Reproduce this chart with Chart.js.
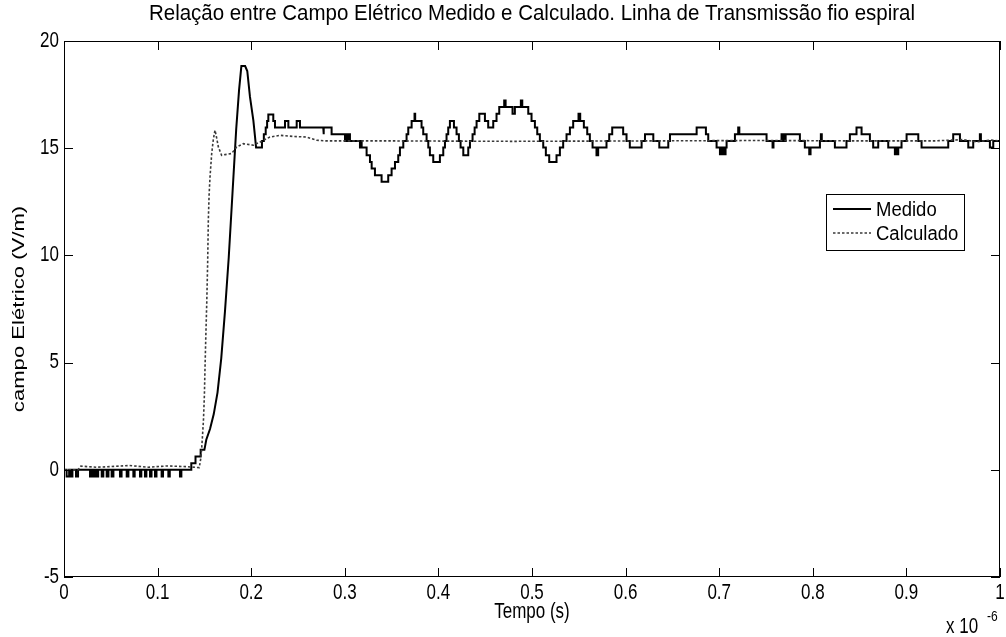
<!DOCTYPE html>
<html>
<head>
<meta charset="utf-8">
<script src="https://cdn.jsdelivr.net/npm/chart.js@4.4.1/dist/chart.umd.min.js"></script>
<style>
  html, body { margin: 0; padding: 0; background: #fff; }
  #wrap { width: 1006px; height: 637px; }
</style>
</head>
<body>
<div id="wrap"><canvas id="grafico" width="1006" height="637"></canvas></div>
<script>
// Campo medido antes da chegada da onda: instantes de mudança (µs) e níveis quantizados (V/m)
const tempoRepouso = [
  0, 0.0028, 0.0055, 0.0071, 0.0090, 0.0128, 0.0150, 0.0278, 0.0295, 0.0313, 0.0330, 0.0349, 0.0365,
  0.0403, 0.0420, 0.0456, 0.0475, 0.0509, 0.0528, 0.0598, 0.0615, 0.0670, 0.0688, 0.0741, 0.0755,
  0.0812, 0.0826, 0.0865, 0.0880, 0.0919, 0.0935, 0.0972, 0.0988, 0.1043, 0.1058, 0.1115, 0.1130, 0.1239, 0.1254
];
const campoRepouso = [
  0, -0.31, 0, -0.31, 0, -0.31, 0, -0.31, 0, -0.31, 0, -0.31, 0,
  -0.31, 0, -0.31, 0, -0.31, 0, -0.31, 0, -0.31, 0, -0.31, 0,
  -0.31, 0, -0.31, 0, -0.31, 0, -0.31, 0, -0.31, 0, -0.31, 0, -0.31, 0
];

// Frente de onda e pico do campo medido (amostras ligadas por segmentos)
const tempoTransitorio = [
  0.1360, 0.1360, 0.1405, 0.1405, 0.1460, 0.1460, 0.1500, 0.1520, 0.1560, 0.1600, 0.1640, 0.1680,
  0.1720, 0.1760, 0.1800, 0.1840, 0.1870, 0.1895, 0.1935, 0.1958, 0.1987, 0.2023, 0.2041, 0.2052
];
const campoTransitorio = [
  0, 0.31, 0.31, 0.62, 0.62, 0.93, 0.93, 1.4, 1.9, 2.6, 3.6, 5.2,
  7.4, 9.9, 12.9, 15.9, 17.7, 18.83, 18.83, 18.6, 17.39, 16.3, 15.53, 15.03
];

// Campo medido em regime: instantes de mudança (µs) e níveis quantizados (V/m)
const tempoRegime = [
  0.2052, 0.2115, 0.2135, 0.2155, 0.2170, 0.2183, 0.2236, 0.2254,
  0.2361, 0.2397, 0.2486, 0.2521,
  0.2770, 0.2777, 0.2859,
  0.3002, 0.3012, 0.3022, 0.3037, 0.3055, 0.3162, 0.3170, 0.3180,
  0.3233, 0.3269, 0.3287, 0.3322, 0.3393, 0.3464, 0.3500, 0.3536, 0.3571, 0.3589, 0.3625,
  0.3660, 0.3678, 0.3714, 0.3745, 0.3752, 0.3820, 0.3838, 0.3874, 0.3892, 0.3909, 0.3945,
  0.4016, 0.4052, 0.4070, 0.4087, 0.4105, 0.4123, 0.4166, 0.4194, 0.4219, 0.4237,
  0.4266, 0.4319, 0.4337, 0.4365, 0.4387, 0.4408, 0.4437, 0.4497, 0.4532, 0.4586,
  0.4621, 0.4650, 0.4703, 0.4718, 0.4792, 0.4817, 0.4881, 0.4896, 0.4960, 0.4995,
  0.5031, 0.5056, 0.5084, 0.5120, 0.5148, 0.5184, 0.5262, 0.5298, 0.5333, 0.5369, 0.5405, 0.5440,
  0.5497, 0.5515, 0.5554, 0.5590, 0.5618, 0.5647, 0.5689, 0.5707, 0.5796, 0.5825, 0.5857, 0.5974,
  0.6010, 0.6045, 0.6171, 0.6207, 0.6296, 0.6360, 0.6456, 0.6474, 0.6759, 0.6858, 0.6883, 0.6972,
  0.7008, 0.7015, 0.7035, 0.7043, 0.7061, 0.7068, 0.7079, 0.7168, 0.7203, 0.7215, 0.7506,
  0.7570, 0.7580, 0.7666, 0.7680, 0.7690, 0.7700, 0.7710, 0.7862, 0.7915, 0.7962, 0.7976,
  0.8076, 0.8086, 0.8096, 0.8236, 0.8360, 0.8396, 0.8467, 0.8521, 0.8610,
  0.8645, 0.8699, 0.8806, 0.8877, 0.8890, 0.8900, 0.8913, 0.8948,
  0.9002, 0.9127, 0.9162, 0.9447, 0.9500, 0.9572, 0.9661, 0.9714, 0.9785, 0.9796, 0.9892, 0.9928, 1.0
];
const campoRegime = [
  15.03, 15.34, 15.65, 15.96, 16.27, 16.57, 16.27, 15.96,
  16.27, 15.96, 16.27, 15.96,
  15.65, 15.96, 15.65,
  15.34, 15.65, 15.34, 15.65, 15.34, 15.03, 15.34, 15.03,
  14.67, 14.36, 14.05, 13.74, 13.43, 13.74, 14.05, 14.36, 14.67, 15.03, 15.34,
  15.65, 15.96, 16.27, 16.61, 16.27, 15.96, 15.65, 15.34, 15.03, 14.67, 14.36,
  14.67, 15.03, 15.34, 15.65, 15.96, 16.27, 15.96, 15.65, 15.34, 15.03,
  14.67, 15.03, 15.34, 15.65, 15.96, 16.27, 16.61, 16.27, 15.96, 16.27,
  16.61, 16.92, 17.23, 16.92, 16.61, 16.92, 17.23, 16.92, 16.61, 16.27,
  15.96, 15.65, 15.34, 15.03, 14.67, 14.36, 14.67, 15.03, 15.34, 15.65, 15.96, 16.27,
  16.61, 16.27, 15.96, 15.65, 15.34, 15.03, 14.67, 15.03, 15.34, 15.65, 15.96, 15.65,
  15.34, 15.03, 15.34, 15.65, 15.34, 15.03, 15.34, 15.65, 15.96, 15.65, 15.34, 15.03,
  14.72, 15.03, 14.72, 15.03, 14.72, 15.03, 15.34, 15.65, 15.96, 15.65, 15.34,
  15.03, 15.34, 15.65, 15.34, 15.65, 15.34, 15.65, 15.34, 15.03, 14.72, 15.03,
  15.34, 15.65, 15.34, 15.03, 15.34, 15.65, 15.96, 15.65, 15.34,
  15.03, 15.34, 15.03, 14.72, 15.03, 14.72, 15.03, 15.34,
  15.65, 15.34, 15.03, 15.34, 15.65, 15.34, 15.03, 15.34, 15.65, 15.34, 15.03, 15.34, 15.34
];

// Campo elétrico calculado pela simulação
const tempoCalculado = [
  0, 0.015, 0.018, 0.035, 0.05, 0.07, 0.09, 0.11, 0.13, 0.1445,
  0.146, 0.147, 0.148, 0.149, 0.150, 0.1506, 0.1515, 0.1525, 0.1535, 0.1542,
  0.155, 0.156, 0.1578, 0.1595, 0.1613, 0.163, 0.1649, 0.1684, 0.172, 0.179,
  0.1845, 0.1916, 0.2023, 0.21, 0.22, 0.2308, 0.245, 0.259, 0.27, 0.28,
  0.35, 0.48, 0.62, 0.75, 0.85, 0.93, 0.96, 0.975, 0.99, 1.0
];
const campoCalculado = [
  0, 0, 0.17, 0.12, 0.15, 0.2, 0.12, 0.18, 0.15, 0.1,
  0.5, 0.93, 1.6, 2.33, 3.5, 4.66, 6.2, 7.76, 9.7, 11.64,
  12.8, 13.66, 14.75, 15.4, 15.84, 15.5, 15.06, 14.67, 14.7, 14.75,
  15.06, 15.21, 15.14, 15.3, 15.52, 15.6, 15.55, 15.52, 15.37, 15.34,
  15.34, 15.32, 15.34, 15.36, 15.34, 15.34, 15.4, 15.3, 15.38, 15.34
];

// Eixos e textos
const ticksTempo = [0, 0.1, 0.2, 0.3, 0.4, 0.5, 0.6, 0.7, 0.8, 0.9, 1];
const ticksCampo = [-5, 0, 5, 10, 15, 20];
const nomesSeries = ['Medido', 'Calculado'];
const titulo = 'Relação entre Campo Elétrico Medido e Calculado. Linha de Transmissão fio espiral';
const rotuloX = 'Tempo (s)';
const rotuloY = 'campo Elétrico (V/m)';

const FONTE = '"Liberation Sans", Arial, Helvetica, sans-serif';

// Níveis quantizados: cada mudança vira um degrau (horizontal e depois vertical)
function degraus(ts, vs) {
  const pts = [];
  ts.forEach((t, i) => {
    if (i > 0) pts.push({ x: t, y: vs[i - 1] });
    pts.push({ x: t, y: vs[i] });
  });
  return pts;
}
const pares = (xs, ys) => xs.map((t, i) => ({ x: t, y: ys[i] }));

// Texto com altura esticada (k) em relação à largura
function texto(ctx, str, x, y, size, align, k, rot) {
  ctx.save();
  ctx.translate(x, y);
  if (rot) { ctx.rotate(rot); ctx.scale(k, 1); } else { ctx.scale(1, k); }
  ctx.font = size + 'px ' + FONTE;
  ctx.textAlign = align;
  ctx.textBaseline = 'middle';
  ctx.fillStyle = '#000';
  ctx.fillText(str, 0, 0);
  ctx.restore();
}

// Moldura estilo MATLAB: caixa fechada, marcas para dentro, rótulos e legenda
const moldura = {
  id: 'moldura',
  afterDatasetsDraw(chart) {
    const { ctx, chartArea: a, scales: { x, y } } = chart;
    const L = 9;
    ctx.save();
    ctx.strokeStyle = '#000';
    ctx.lineWidth = 1;
    ctx.beginPath();
    x.ticks.forEach(t => {
      const px = Math.round(x.getPixelForValue(t.value)) + 0.5;
      ctx.moveTo(px, a.bottom); ctx.lineTo(px, a.bottom - L);
      ctx.moveTo(px, a.top); ctx.lineTo(px, a.top + L);
    });
    y.ticks.forEach(t => {
      const py = Math.round(y.getPixelForValue(t.value)) + 0.5;
      ctx.moveTo(a.left, py); ctx.lineTo(a.left + L, py);
      ctx.moveTo(a.right, py); ctx.lineTo(a.right - L, py);
    });
    ctx.stroke();
    ctx.strokeRect(Math.round(a.left) + 0.5, Math.round(a.top) + 0.5,
                   Math.round(a.width) - 1, Math.round(a.height) - 1);

    // Legenda
    const lx = a.right - 174, ly = a.top + 153, lw = 138, lh = 56;
    ctx.fillStyle = '#fff';
    ctx.fillRect(lx, ly, lw, lh);
    ctx.strokeStyle = '#000';
    ctx.strokeRect(lx + 0.5, ly + 0.5, lw, lh);
    chart.data.datasets.forEach((ds, i) => {
      const yy = ly + 15 + i * 24;
      ctx.save();
      ctx.strokeStyle = ds.borderColor;
      ctx.lineWidth = ds.borderWidth;
      ctx.setLineDash(ds.borderDash || []);
      ctx.beginPath();
      ctx.moveTo(lx + 7, yy);
      ctx.lineTo(lx + 45, yy);
      ctx.stroke();
      ctx.restore();
      texto(ctx, ds.label, lx + 50, yy + 1, 18.5, 'left', 1.12);
    });
    ctx.restore();
  },
  afterDraw(chart) {
    const { ctx, chartArea: a, scales: { x, y } } = chart;
    const cx = (a.left + a.right) / 2;
    x.ticks.forEach(t => {
      texto(ctx, String(+t.value.toFixed(1)), x.getPixelForValue(t.value), a.bottom + 16, 17, 'center', 1.25);
    });
    y.ticks.forEach(t => {
      texto(ctx, String(t.value), a.left - 5, y.getPixelForValue(t.value), 17, 'right', 1.25);
    });
    texto(ctx, titulo, cx, 14, 20.5, 'center', 1.05);
    texto(ctx, rotuloX, cx, 612, 17, 'center', 1.25);
    texto(ctx, rotuloY, 19, (a.top + a.bottom) / 2, 17, 'center', 1.3, -Math.PI / 2);
    texto(ctx, 'x 10', a.right - 54, 627, 17, 'left', 1.25);
    texto(ctx, '-6', a.right - 13, 617, 12, 'left', 1.25);
  }
};

new Chart(document.getElementById('grafico'), {
  type: 'line',
  data: {
    datasets: [
      {
        label: nomesSeries[0],
        data: [
          ...degraus(tempoRepouso, campoRepouso),
          ...pares(tempoTransitorio, campoTransitorio),
          ...degraus(tempoRegime, campoRegime)
        ],
        borderColor: '#000',
        borderWidth: 2,
        pointRadius: 0,
        fill: false,
        order: 1
      },
      {
        label: nomesSeries[1],
        data: pares(tempoCalculado, campoCalculado),
        borderColor: '#3a3a3a',
        borderWidth: 1.6,
        borderDash: [2.5, 2],
        tension: 0,
        pointRadius: 0,
        fill: false,
        order: 0
      }
    ]
  },
  options: {
    responsive: false,
    animation: false,
    devicePixelRatio: 1,
    layout: { padding: { top: 41, right: 6, left: 0, bottom: 0 } },
    plugins: {
      legend: { display: false },
      title: { display: false },
      tooltip: { enabled: false }
    },
    scales: {
      x: {
        type: 'linear',
        min: 0,
        max: 1,
        grid: { display: false, drawTicks: false },
        border: { display: false },
        afterFit: s => { s.height = 60; },
        afterBuildTicks: s => { s.ticks = ticksTempo.map(v => ({ value: v })); },
        ticks: { display: false, autoSkip: false }
      },
      y: {
        type: 'linear',
        min: -5,
        max: 20,
        grid: { display: false, drawTicks: false },
        border: { display: false },
        afterFit: s => { s.width = 64; },
        afterBuildTicks: s => { s.ticks = ticksCampo.map(v => ({ value: v })); },
        ticks: { display: false, autoSkip: false }
      }
    }
  },
  plugins: [moldura]
});
</script>
</body>
</html>
